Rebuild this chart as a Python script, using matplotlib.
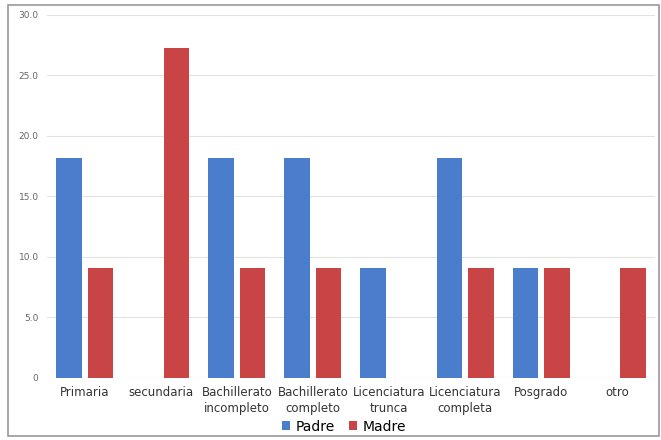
import numpy as np
import matplotlib
matplotlib.use("Agg")
import matplotlib.pyplot as plt
from matplotlib.patches import Rectangle

categorias = ["Primaria", "secundaria", "Bachillerato\nincompleto", "Bachillerato\ncompleto",
              "Licenciatura\ntrunca", "Licenciatura\ncompleta", "Posgrado", "otro"]
padre = [18.2, 0, 18.2, 18.2, 9.1, 18.2, 9.1, 0]
madre = [9.1, 27.3, 9.1, 9.1, 0, 9.1, 9.1, 9.1]
yticks = [0, 5, 10, 15, 20, 25, 30]
ytick_labels = ["0", "5.0", "10.0", "15.0", "20.0", "25.0", "30.0"]

fig = plt.figure(figsize=(6.61, 4.40), dpi=100)
ax = fig.add_axes([0.071, 0.141, 0.92, 0.825])

x = np.arange(len(categorias))
w = 0.33
ax.bar(x - 0.21, padre, w, color="#4a7dcc", label="Padre", zorder=3)
ax.bar(x + 0.21, madre, w, color="#c94545", label="Madre", zorder=3)

ax.set_xlim(-0.5, len(categorias) - 0.5)
ax.set_ylim(0, 30)
ax.set_yticks(yticks)
ax.set_yticklabels(ytick_labels, fontsize=6.5, color="#666666")
ax.set_xticks(x)
ax.set_xticklabels(categorias, fontsize=8.5, color="#333333", linespacing=1.3)
ax.tick_params(length=0, pad=6)
ax.yaxis.grid(True, color="#e2e2e2", linewidth=0.8, zorder=0)
for s in ax.spines.values():
    s.set_visible(False)
ax.axhline(0, color="#e8e6d8", linewidth=0.8, zorder=2)

fig.legend(loc="center", bbox_to_anchor=(0.52, 0.03), ncol=2, frameon=False,
           fontsize=10, handlelength=0.6, handleheight=0.6, columnspacing=1.0,
           handletextpad=0.4)

fig.patches.append(Rectangle((0.012, 0.008), 0.985, 0.98, transform=fig.transFigure,
                             fill=False, edgecolor="#9a9a9a", linewidth=1.2))

fig.savefig("out.png", dpi=100)
